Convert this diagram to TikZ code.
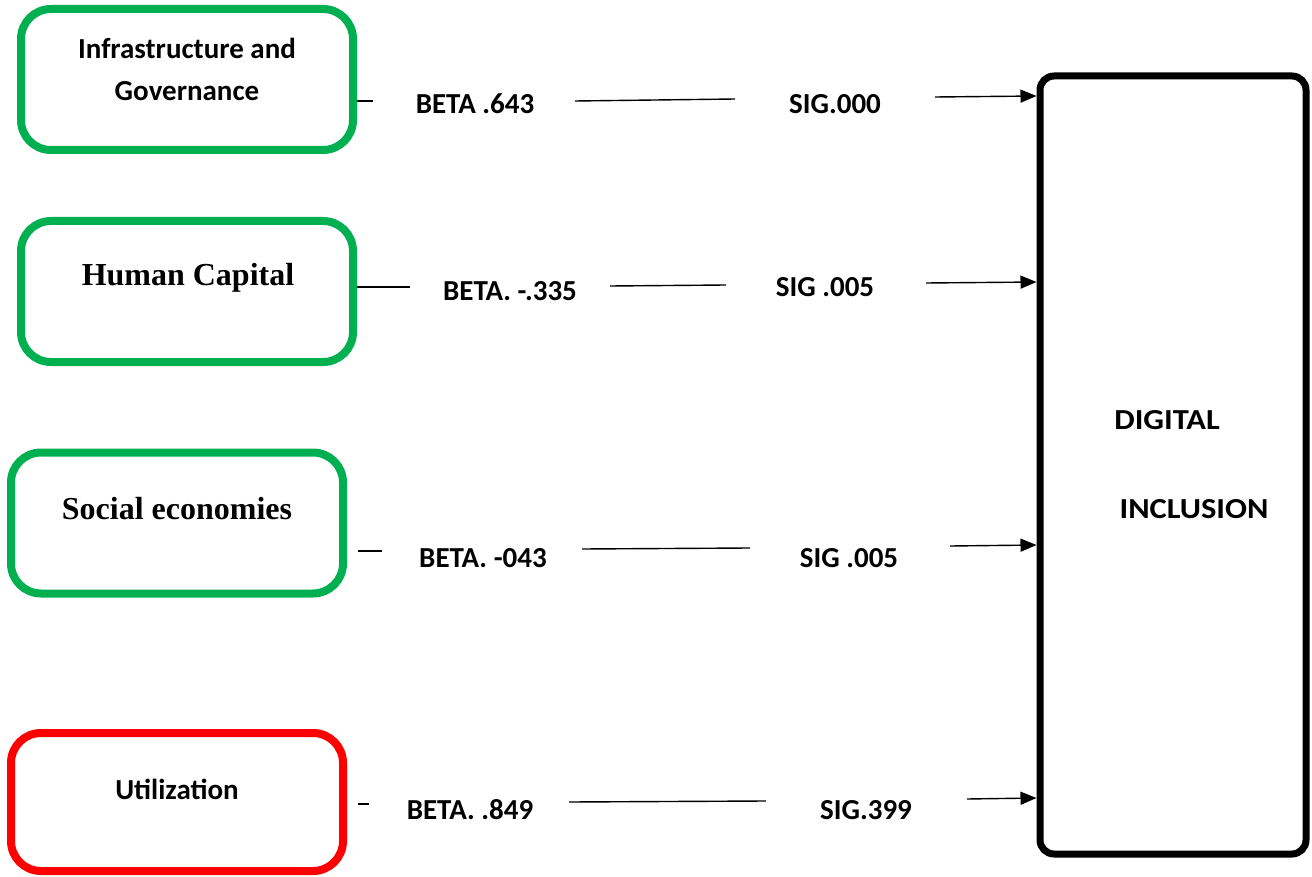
\documentclass[tikz,border=0pt]{standalone}
\usepackage{fontspec}
\setmainfont{Carlito}
\newfontfamily\timesfont{Liberation Serif}
\usetikzlibrary{arrows.meta}
\definecolor{wgreen}{RGB}{0,176,80}
\definecolor{wred}{RGB}{255,0,0}
\tikzset{
  inbox/.style={draw=wgreen, line width=4pt, rounded corners=15pt, minimum width=166pt, minimum height=70.5pt, inner sep=0pt},
  redbox/.style={inbox, draw=wred},
  outbox/.style={draw=black, line width=3.5pt, rounded corners=7pt, minimum width=133pt, minimum height=389pt, inner sep=0pt},
  cal/.style={font=\fontsize{14.5}{21}\selectfont\bfseries, inner sep=0pt, align=center},
  tms/.style={font=\fontsize{16}{20}\selectfont\timesfont\bfseries, inner sep=0pt},
  conn/.style={line width=0.7pt},
  arr/.style={line width=0.7pt, -{Triangle[length=8pt,width=6.5pt]}}
}
\begin{document}
\begin{tikzpicture}[x=0.5pt,y=-0.5pt]
\useasboundingbox (0,0) rectangle (1312,877);
% boxes
\node[inbox] (b1) at (187,79.5) {};
\node[inbox] (b2) at (187,291.5) {};
\node[inbox] (b3) at (177,523) {};
\node[redbox, minimum height=69pt] (b4) at (177,802) {};
\node[outbox] (di) at (1173,465) {};
% box texts
\node[cal] (t1) at (187,69) {Infrastructure and\\Governance};
\node[tms] (t2) at (188,278) {Human Capital};
\node[tms] (t3) at (177,509) {Social economies};
\node[cal] (t4) at (177,789) {Utilization};
\node[cal] (d1) at (1167,420) {\scalebox{1.12}[1]{DIGITAL}};
\node[cal] (d2) at (1194,509) {\scalebox{1.12}[1]{INCLUSION}};
% labels
\node[cal] (be1) at (475,104) {BETA .643};
\node[cal] (s1) at (835,104) {SIG.000};
\node[cal] (be2) at (510,291) {BETA. -.335};
\node[cal] (s2) at (825,287) {SIG .005};
\node[cal] (be3) at (483,558) {BETA. -043};
\node[cal] (s3) at (849,558) {SIG .005};
\node[cal] (be4) at (470,810) {BETA. .849};
\node[cal] (s4) at (866,810) {SIG.399};
% coordinates for line ends
\coordinate (a1) at (373,101);
\coordinate (m1a) at (575,101); \coordinate (m1b) at (735,99);
\coordinate (e1) at (935,97);
\coordinate (a2) at (410,287);
\coordinate (m2a) at (610,286); \coordinate (m2b) at (726,285);
\coordinate (e2) at (926,283);
\coordinate (p3) at (358,551); \coordinate (a3) at (382,551);
\coordinate (m3a) at (582,549); \coordinate (m3b) at (750,548);
\coordinate (e3) at (950,546);
\coordinate (p4) at (358,804); \coordinate (a4) at (369,804);
\coordinate (m4a) at (569,802); \coordinate (m4b) at (766,801);
\coordinate (e4) at (967,799);
% connectors
\draw[conn] (b1.east |- a1) -- (a1);
\draw[conn] (m1a) -- (m1b);
\draw[arr] (e1) -- (di.west |- 0,96);
\draw[conn] (b2.east |- a2) -- (a2);
\draw[conn] (m2a) -- (m2b);
\draw[arr] (e2) -- (di.west |- 0,282);
\draw[conn] (p3) -- (a3);
\draw[conn] (m3a) -- (m3b);
\draw[arr] (e3) -- (di.west |- 0,545);
\draw[conn] (p4) -- (a4);
\draw[conn] (m4a) -- (m4b);
\draw[arr] (e4) -- (di.west |- 0,798);
\end{tikzpicture}
\end{document}
